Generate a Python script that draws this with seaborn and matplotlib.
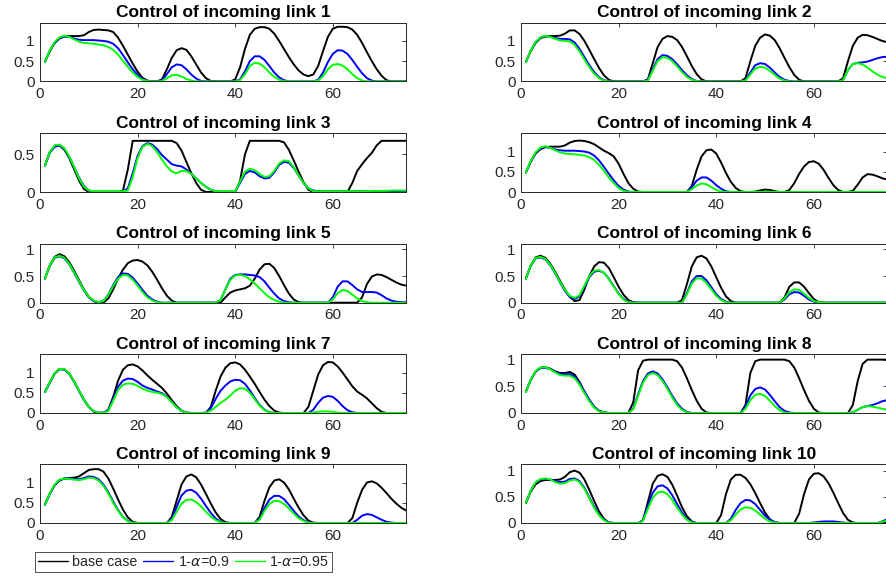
import numpy as np
import pandas as pd
import matplotlib
matplotlib.use("Agg")
import matplotlib.pyplot as plt
import seaborn as sns
from matplotlib.lines import Line2D
from matplotlib.ticker import FuncFormatter

# Time steps of the simulation horizon
time_steps = list(range(1, 76))

titles = [f"Control of incoming link {k}" for k in range(1, 11)]
series_names = ["base case", "1-\u03b1=0.9", "1-\u03b1=0.95"]
legend_labels = ["base case", r"1-$\alpha$=0.9", r"1-$\alpha$=0.95"]
x_ticks = [0, 20, 40, 60]

# Control signal of each incoming link, base case
base_case = [
    [0.48, 0.75, 0.95, 1.06, 1.11, 1.12, 1.12, 1.12, 1.14, 1.22,
     1.27, 1.28, 1.27, 1.26, 1.22, 1.08, 0.88, 0.66, 0.44, 0.24,
     0.09, 0.02, 0, 0, 0.05, 0.30, 0.58, 0.77, 0.82, 0.78,
     0.62, 0.42, 0.22, 0.08, 0.01, 0, 0, 0, 0, 0.05,
     0.35, 0.80, 1.15, 1.30, 1.34, 1.34, 1.30, 1.18, 1.00, 0.80,
     0.60, 0.42, 0.27, 0.17, 0.13, 0.17, 0.38, 0.75, 1.10, 1.30,
     1.35, 1.35, 1.34, 1.28, 1.15, 0.95, 0.72, 0.50, 0.30, 0.14,
     0.03, 0, 0, 0, 0],
    [0.48, 0.75, 0.95, 1.07, 1.11, 1.12, 1.12, 1.13, 1.18, 1.26,
     1.26, 1.17, 1.00, 0.78, 0.55, 0.33, 0.15, 0.04, 0, 0,
     0, 0, 0, 0, 0, 0.05, 0.45, 0.85, 1.05, 1.12,
     1.10, 1.02, 0.85, 0.62, 0.38, 0.18, 0.05, 0, 0, 0,
     0, 0, 0, 0, 0, 0.08, 0.50, 0.88, 1.08, 1.16,
     1.13, 1.02, 0.82, 0.58, 0.35, 0.16, 0.04, 0, 0, 0,
     0, 0, 0, 0, 0, 0.08, 0.50, 0.88, 1.08, 1.15,
     1.14, 1.10, 1.05, 1.00, 0.97],
    [0.35, 0.53, 0.61, 0.62, 0.56, 0.45, 0.30, 0.15, 0.04, 0,
     0, 0, 0, 0, 0, 0, 0.02, 0.30, 0.68, 0.68,
     0.68, 0.68, 0.68, 0.68, 0.68, 0.68, 0.68, 0.65, 0.55, 0.40,
     0.25, 0.12, 0.03, 0, 0, 0, 0, 0, 0, 0,
     0.15, 0.50, 0.68, 0.68, 0.68, 0.68, 0.68, 0.68, 0.68, 0.66,
     0.56, 0.42, 0.27, 0.13, 0.03, 0, 0, 0, 0, 0,
     0, 0, 0, 0.12, 0.28, 0.37, 0.45, 0.52, 0.62, 0.68,
     0.68, 0.68, 0.68, 0.68, 0.68],
    [0.48, 0.75, 0.95, 1.06, 1.11, 1.12, 1.12, 1.12, 1.15, 1.22,
     1.26, 1.27, 1.26, 1.23, 1.18, 1.10, 1.02, 0.96, 0.88, 0.70,
     0.45, 0.22, 0.08, 0.01, 0, 0, 0, 0, 0, 0,
     0, 0, 0, 0, 0.15, 0.55, 0.88, 1.03, 1.05, 0.95,
     0.73, 0.47, 0.25, 0.10, 0.02, 0, 0, 0.01, 0.04, 0.06,
     0.05, 0.02, 0, 0, 0.05, 0.22, 0.45, 0.63, 0.74, 0.76,
     0.70, 0.55, 0.35, 0.17, 0.05, 0, 0, 0.03, 0.18, 0.36,
     0.44, 0.43, 0.39, 0.34, 0.31],
    [0.45, 0.70, 0.86, 0.91, 0.87, 0.76, 0.60, 0.42, 0.25, 0.11,
     0.03, 0, 0, 0.08, 0.25, 0.45, 0.62, 0.74, 0.79, 0.80,
     0.77, 0.70, 0.58, 0.43, 0.27, 0.13, 0.04, 0, 0, 0,
     0, 0, 0, 0, 0, 0, 0, 0.10, 0.19, 0.23,
     0.25, 0.27, 0.32, 0.45, 0.62, 0.72, 0.73, 0.65, 0.50, 0.33,
     0.17, 0.06, 0.01, 0, 0, 0, 0, 0, 0, 0,
     0, 0, 0, 0, 0, 0.10, 0.35, 0.49, 0.53, 0.52,
     0.48, 0.43, 0.38, 0.34, 0.32],
    [0.45, 0.70, 0.85, 0.88, 0.84, 0.73, 0.58, 0.41, 0.25, 0.11,
     0.03, 0.05, 0.25, 0.50, 0.68, 0.76, 0.75, 0.65, 0.48, 0.30,
     0.15, 0.05, 0.01, 0, 0, 0, 0, 0, 0, 0,
     0, 0, 0.05, 0.35, 0.68, 0.85, 0.88, 0.83, 0.68, 0.48,
     0.28, 0.12, 0.03, 0, 0, 0, 0, 0, 0, 0,
     0, 0, 0, 0.10, 0.30, 0.38, 0.38, 0.30, 0.18, 0.07,
     0.01, 0, 0, 0, 0, 0, 0, 0, 0, 0,
     0, 0, 0, 0, 0],
    [0.52, 0.75, 0.98, 1.09, 1.08, 0.97, 0.78, 0.55, 0.33, 0.15,
     0.04, 0, 0, 0.08, 0.40, 0.80, 1.07, 1.18, 1.20, 1.15,
     1.05, 0.93, 0.82, 0.72, 0.62, 0.48, 0.32, 0.17, 0.06, 0.01,
     0, 0, 0, 0, 0.15, 0.55, 0.90, 1.12, 1.23, 1.25,
     1.20, 1.07, 0.90, 0.72, 0.52, 0.33, 0.17, 0.06, 0.01, 0,
     0, 0, 0, 0, 0.15, 0.55, 0.95, 1.18, 1.26, 1.25,
     1.15, 1.00, 0.83, 0.66, 0.53, 0.45, 0.36, 0.24, 0.12, 0.03,
     0, 0, 0, 0, 0],
    [0.40, 0.62, 0.78, 0.85, 0.86, 0.83, 0.78, 0.75, 0.75, 0.77,
     0.72, 0.58, 0.40, 0.24, 0.11, 0.04, 0.01, 0, 0, 0,
     0, 0, 0.20, 0.80, 0.98, 1.00, 1.00, 1.00, 1.00, 1.00,
     1.00, 0.97, 0.85, 0.65, 0.43, 0.23, 0.08, 0.01, 0, 0,
     0, 0, 0, 0, 0, 0.15, 0.75, 0.97, 1.00, 1.00,
     1.00, 1.00, 1.00, 1.00, 0.97, 0.85, 0.65, 0.43, 0.23, 0.08,
     0.01, 0, 0, 0, 0, 0, 0, 0.15, 0.60, 0.92,
     1.00, 1.00, 1.00, 1.00, 1.00],
    [0.45, 0.72, 0.93, 1.05, 1.10, 1.11, 1.12, 1.15, 1.23, 1.31,
     1.33, 1.33, 1.27, 1.10, 0.85, 0.58, 0.33, 0.14, 0.03, 0,
     0, 0, 0, 0, 0, 0, 0.15, 0.55, 0.95, 1.15,
     1.20, 1.13, 0.95, 0.72, 0.48, 0.26, 0.10, 0.02, 0, 0,
     0, 0, 0, 0, 0.15, 0.55, 0.88, 1.05, 1.08, 1.00,
     0.83, 0.60, 0.38, 0.19, 0.06, 0.01, 0, 0, 0, 0,
     0, 0, 0, 0.12, 0.50, 0.82, 1.00, 1.03, 0.98, 0.87,
     0.74, 0.60, 0.48, 0.38, 0.31],
    [0.38, 0.60, 0.74, 0.80, 0.82, 0.82, 0.82, 0.83, 0.88, 0.97,
     1.00, 0.96, 0.83, 0.63, 0.42, 0.22, 0.08, 0.01, 0, 0,
     0, 0, 0, 0, 0.05, 0.40, 0.75, 0.90, 0.93, 0.88,
     0.73, 0.52, 0.30, 0.13, 0.03, 0, 0, 0, 0, 0,
     0.15, 0.55, 0.83, 0.92, 0.92, 0.86, 0.74, 0.57, 0.38, 0.20,
     0.07, 0.01, 0, 0, 0, 0, 0.18, 0.55, 0.83, 0.94,
     0.95, 0.89, 0.76, 0.58, 0.38, 0.19, 0.06, 0.01, 0, 0,
     0, 0, 0, 0, 0],
]

# Control signal with chance constraint 1-alpha = 0.9
alpha_090 = [
    [0.48, 0.75, 0.95, 1.07, 1.11, 1.10, 1.06, 1.03, 1.02, 1.02,
     1.02, 1.01, 1.00, 0.98, 0.93, 0.82, 0.65, 0.47, 0.30, 0.16,
     0.06, 0.01, 0, 0, 0.03, 0.18, 0.35, 0.42, 0.40, 0.30,
     0.17, 0.07, 0.01, 0, 0, 0, 0, 0, 0, 0,
     0.05, 0.25, 0.50, 0.62, 0.62, 0.53, 0.38, 0.22, 0.10, 0.03,
     0, 0, 0, 0, 0, 0, 0.04, 0.22, 0.48, 0.68,
     0.77, 0.76, 0.68, 0.53, 0.36, 0.20, 0.08, 0.02, 0, 0,
     0, 0, 0, 0, 0],
    [0.48, 0.76, 0.97, 1.08, 1.12, 1.10, 1.07, 1.05, 1.05, 1.04,
     0.96, 0.80, 0.60, 0.40, 0.23, 0.10, 0.03, 0, 0, 0,
     0, 0, 0, 0, 0, 0.03, 0.30, 0.55, 0.65, 0.63,
     0.55, 0.42, 0.28, 0.15, 0.06, 0.01, 0, 0, 0, 0,
     0, 0, 0, 0, 0, 0.03, 0.22, 0.40, 0.45, 0.43,
     0.34, 0.22, 0.11, 0.04, 0.01, 0, 0, 0, 0, 0,
     0, 0, 0, 0, 0, 0.03, 0.28, 0.43, 0.46, 0.47,
     0.49, 0.53, 0.57, 0.60, 0.61],
    [0.35, 0.52, 0.60, 0.62, 0.57, 0.47, 0.33, 0.19, 0.08, 0.02,
     0.005, 0.005, 0.005, 0.005, 0.005, 0.005, 0.005, 0.05, 0.25, 0.48,
     0.61, 0.65, 0.63, 0.57, 0.49, 0.43, 0.37, 0.35, 0.34, 0.30,
     0.24, 0.18, 0.12, 0.07, 0.03, 0.01, 0.005, 0.005, 0.005, 0.01,
     0.12, 0.24, 0.28, 0.26, 0.21, 0.18, 0.19, 0.26, 0.36, 0.40,
     0.39, 0.32, 0.22, 0.12, 0.05, 0.02, 0.01, 0.01, 0.01, 0.01,
     0.01, 0.01, 0.01, 0.01, 0.01, 0.01, 0.01, 0.01, 0.01, 0.01,
     0.01, 0.01, 0.01, 0.01, 0.01],
    [0.48, 0.76, 0.97, 1.08, 1.11, 1.09, 1.05, 1.03, 1.02, 1.02,
     1.02, 1.01, 1.00, 0.97, 0.90, 0.78, 0.62, 0.45, 0.29, 0.15,
     0.06, 0.01, 0, 0, 0, 0, 0, 0, 0, 0,
     0, 0, 0, 0, 0.12, 0.28, 0.36, 0.36, 0.28, 0.17,
     0.08, 0.02, 0, 0, 0, 0, 0, 0, 0, 0,
     0, 0, 0, 0, 0, 0, 0, 0, 0, 0,
     0, 0, 0, 0, 0, 0, 0, 0, 0, 0,
     0, 0, 0, 0, 0],
    [0.45, 0.69, 0.84, 0.87, 0.83, 0.72, 0.56, 0.39, 0.23, 0.10,
     0.03, 0.01, 0.03, 0.15, 0.33, 0.48, 0.55, 0.54, 0.47, 0.36,
     0.24, 0.13, 0.06, 0.02, 0, 0, 0, 0, 0, 0,
     0, 0, 0, 0, 0, 0, 0.05, 0.25, 0.45, 0.52,
     0.53, 0.53, 0.52, 0.51, 0.48, 0.40, 0.28, 0.17, 0.08, 0.03,
     0.01, 0, 0, 0, 0, 0, 0, 0, 0, 0.10,
     0.30, 0.40, 0.40, 0.33, 0.25, 0.20, 0.20, 0.20, 0.19, 0.14,
     0.08, 0.04, 0.02, 0.01, 0.01],
    [0.45, 0.69, 0.83, 0.85, 0.81, 0.70, 0.55, 0.38, 0.22, 0.11,
     0.07, 0.12, 0.30, 0.48, 0.58, 0.60, 0.56, 0.45, 0.31, 0.17,
     0.07, 0.02, 0, 0, 0, 0, 0, 0, 0, 0,
     0, 0, 0, 0.18, 0.40, 0.50, 0.50, 0.42, 0.29, 0.16,
     0.07, 0.02, 0, 0, 0, 0, 0, 0, 0, 0,
     0, 0, 0, 0.06, 0.16, 0.20, 0.19, 0.13, 0.06, 0.02,
     0, 0, 0, 0, 0, 0, 0, 0, 0, 0,
     0, 0, 0, 0, 0],
    [0.52, 0.75, 0.97, 1.08, 1.07, 0.96, 0.77, 0.54, 0.32, 0.15,
     0.04, 0.01, 0.01, 0.07, 0.35, 0.65, 0.80, 0.85, 0.84, 0.77,
     0.68, 0.62, 0.58, 0.53, 0.49, 0.40, 0.27, 0.14, 0.05, 0.01,
     0, 0, 0, 0.01, 0.12, 0.35, 0.55, 0.68, 0.78, 0.82,
     0.81, 0.72, 0.56, 0.37, 0.20, 0.08, 0.02, 0, 0, 0,
     0, 0, 0, 0, 0, 0.08, 0.25, 0.38, 0.42, 0.40,
     0.30, 0.17, 0.07, 0.02, 0, 0, 0, 0, 0, 0,
     0, 0, 0, 0, 0],
    [0.40, 0.62, 0.78, 0.84, 0.85, 0.82, 0.77, 0.73, 0.73, 0.73,
     0.68, 0.56, 0.40, 0.25, 0.12, 0.04, 0.01, 0, 0, 0,
     0, 0, 0.08, 0.35, 0.60, 0.74, 0.78, 0.74, 0.63, 0.48,
     0.32, 0.18, 0.08, 0.02, 0, 0, 0, 0, 0, 0,
     0, 0, 0, 0, 0, 0.12, 0.33, 0.45, 0.48, 0.44,
     0.34, 0.22, 0.11, 0.04, 0.01, 0, 0, 0, 0, 0,
     0, 0, 0, 0, 0, 0, 0, 0.01, 0.06, 0.11,
     0.13, 0.15, 0.18, 0.22, 0.24],
    [0.45, 0.72, 0.94, 1.06, 1.10, 1.10, 1.09, 1.08, 1.11, 1.15,
     1.14, 1.08, 0.95, 0.76, 0.53, 0.32, 0.15, 0.05, 0.01, 0,
     0, 0, 0, 0, 0, 0, 0.10, 0.40, 0.68, 0.80,
     0.82, 0.75, 0.60, 0.42, 0.25, 0.11, 0.03, 0, 0, 0,
     0, 0, 0, 0, 0.10, 0.37, 0.58, 0.67, 0.67, 0.59,
     0.45, 0.30, 0.16, 0.07, 0.02, 0, 0, 0, 0, 0,
     0, 0, 0, 0, 0.08, 0.18, 0.22, 0.20, 0.14, 0.08,
     0.03, 0.01, 0, 0, 0],
    [0.38, 0.62, 0.77, 0.83, 0.84, 0.83, 0.80, 0.78, 0.79, 0.84,
     0.85, 0.80, 0.67, 0.49, 0.31, 0.16, 0.06, 0.01, 0, 0,
     0, 0, 0, 0, 0.05, 0.33, 0.58, 0.70, 0.72, 0.66,
     0.53, 0.36, 0.20, 0.08, 0.02, 0, 0, 0, 0, 0,
     0, 0, 0.08, 0.25, 0.38, 0.44, 0.43, 0.36, 0.25, 0.14,
     0.06, 0.02, 0, 0, 0, 0, 0, 0, 0, 0.01,
     0.02, 0.03, 0.03, 0.03, 0.02, 0.01, 0, 0, 0, 0,
     0, 0, 0, 0.03, 0.07],
]

# Control signal with chance constraint 1-alpha = 0.95
alpha_095 = [
    [0.48, 0.76, 0.97, 1.09, 1.13, 1.10, 1.04, 0.98, 0.95, 0.94,
     0.93, 0.91, 0.89, 0.85, 0.78, 0.66, 0.51, 0.36, 0.22, 0.11,
     0.04, 0.01, 0, 0, 0.01, 0.08, 0.15, 0.16, 0.12, 0.06,
     0.02, 0, 0, 0, 0, 0, 0, 0, 0, 0,
     0.03, 0.18, 0.38, 0.46, 0.44, 0.35, 0.22, 0.11, 0.04, 0.01,
     0, 0, 0, 0, 0, 0, 0.02, 0.13, 0.30, 0.41,
     0.43, 0.39, 0.30, 0.18, 0.08, 0.02, 0, 0, 0, 0,
     0, 0, 0, 0, 0],
    [0.48, 0.76, 0.97, 1.09, 1.13, 1.10, 1.05, 1.01, 1.00, 0.99,
     0.90, 0.74, 0.54, 0.35, 0.19, 0.08, 0.02, 0, 0, 0,
     0, 0, 0, 0, 0, 0.02, 0.27, 0.50, 0.60, 0.58,
     0.50, 0.37, 0.23, 0.11, 0.04, 0.01, 0, 0, 0, 0,
     0, 0, 0, 0, 0, 0.02, 0.17, 0.32, 0.36, 0.34,
     0.26, 0.16, 0.07, 0.02, 0, 0, 0, 0, 0, 0,
     0, 0, 0, 0, 0, 0.03, 0.28, 0.43, 0.45, 0.42,
     0.34, 0.25, 0.17, 0.11, 0.08],
    [0.35, 0.53, 0.62, 0.63, 0.58, 0.47, 0.33, 0.18, 0.07, 0.02,
     0.01, 0.01, 0.01, 0.01, 0.01, 0.01, 0.01, 0.02, 0.20, 0.45,
     0.60, 0.64, 0.61, 0.53, 0.43, 0.34, 0.27, 0.25, 0.28, 0.28,
     0.24, 0.18, 0.12, 0.07, 0.03, 0.01, 0.01, 0.01, 0.01, 0.01,
     0.14, 0.27, 0.31, 0.29, 0.24, 0.20, 0.21, 0.28, 0.38, 0.42,
     0.41, 0.33, 0.22, 0.12, 0.05, 0.01, 0.01, 0.01, 0.01, 0.01,
     0.01, 0.01, 0.01, 0.01, 0.01, 0.01, 0.01, 0.015, 0.015, 0.015,
     0.015, 0.02, 0.02, 0.02, 0.02],
    [0.48, 0.77, 0.98, 1.10, 1.13, 1.09, 1.03, 0.98, 0.95, 0.94,
     0.93, 0.92, 0.90, 0.86, 0.79, 0.67, 0.52, 0.36, 0.22, 0.10,
     0.03, 0, 0, 0, 0, 0, 0, 0, 0, 0,
     0, 0, 0, 0, 0.07, 0.16, 0.21, 0.19, 0.12, 0.05,
     0.01, 0, 0, 0, 0, 0, 0, 0, 0, 0,
     0, 0, 0, 0, 0, 0, 0, 0, 0, 0,
     0, 0, 0, 0, 0, 0, 0, 0, 0, 0,
     0, 0, 0, 0, 0],
    [0.45, 0.70, 0.85, 0.88, 0.84, 0.73, 0.57, 0.40, 0.24, 0.11,
     0.04, 0.01, 0.03, 0.14, 0.31, 0.45, 0.52, 0.51, 0.43, 0.32,
     0.20, 0.10, 0.04, 0.01, 0, 0, 0, 0, 0, 0,
     0, 0, 0, 0, 0, 0, 0.05, 0.25, 0.43, 0.51,
     0.52, 0.50, 0.44, 0.36, 0.27, 0.18, 0.10, 0.05, 0.02, 0,
     0, 0, 0, 0, 0, 0, 0, 0, 0, 0.06,
     0.18, 0.24, 0.22, 0.15, 0.08, 0.03, 0.01, 0, 0, 0,
     0, 0, 0, 0, 0],
    [0.45, 0.70, 0.84, 0.86, 0.82, 0.71, 0.56, 0.39, 0.24, 0.13,
     0.09, 0.14, 0.32, 0.50, 0.60, 0.61, 0.56, 0.44, 0.30, 0.16,
     0.06, 0.01, 0, 0, 0, 0, 0, 0, 0, 0,
     0, 0, 0, 0.16, 0.36, 0.46, 0.45, 0.37, 0.25, 0.13,
     0.05, 0.01, 0, 0, 0, 0, 0, 0, 0, 0,
     0, 0, 0, 0.08, 0.20, 0.25, 0.24, 0.17, 0.09, 0.03,
     0.01, 0, 0, 0, 0, 0, 0, 0, 0, 0,
     0, 0, 0, 0, 0],
    [0.52, 0.76, 0.98, 1.09, 1.08, 0.97, 0.78, 0.55, 0.33, 0.15,
     0.05, 0.01, 0.01, 0.05, 0.30, 0.57, 0.70, 0.73, 0.72, 0.67,
     0.60, 0.55, 0.52, 0.50, 0.47, 0.39, 0.27, 0.14, 0.05, 0.01,
     0, 0, 0, 0.01, 0.06, 0.15, 0.25, 0.33, 0.43, 0.55,
     0.61, 0.60, 0.50, 0.34, 0.18, 0.07, 0.02, 0, 0, 0,
     0, 0, 0, 0, 0, 0.01, 0.03, 0.04, 0.04, 0.03,
     0.01, 0, 0, 0, 0, 0, 0, 0, 0, 0,
     0, 0, 0, 0, 0],
    [0.40, 0.62, 0.79, 0.85, 0.86, 0.82, 0.76, 0.71, 0.70, 0.70,
     0.65, 0.53, 0.37, 0.22, 0.10, 0.03, 0.01, 0, 0, 0,
     0, 0, 0.07, 0.32, 0.57, 0.71, 0.75, 0.71, 0.60, 0.45,
     0.29, 0.15, 0.06, 0.01, 0, 0, 0, 0, 0, 0,
     0, 0, 0, 0, 0, 0.08, 0.24, 0.34, 0.36, 0.32,
     0.23, 0.13, 0.05, 0.01, 0, 0, 0, 0, 0, 0,
     0, 0, 0, 0, 0, 0, 0, 0.01, 0.06, 0.11,
     0.13, 0.12, 0.10, 0.08, 0.06],
    [0.45, 0.73, 0.95, 1.07, 1.10, 1.09, 1.07, 1.06, 1.08, 1.12,
     1.11, 1.05, 0.92, 0.73, 0.50, 0.30, 0.14, 0.04, 0.01, 0,
     0, 0, 0, 0, 0, 0, 0.07, 0.28, 0.48, 0.57,
     0.58, 0.52, 0.41, 0.28, 0.16, 0.07, 0.02, 0, 0, 0,
     0, 0, 0, 0, 0.08, 0.30, 0.47, 0.55, 0.54, 0.47,
     0.36, 0.23, 0.12, 0.05, 0.01, 0, 0, 0, 0, 0,
     0, 0, 0, 0, 0, 0, 0, 0, 0, 0,
     0, 0, 0, 0, 0],
    [0.38, 0.62, 0.78, 0.84, 0.85, 0.83, 0.78, 0.75, 0.76, 0.81,
     0.83, 0.78, 0.65, 0.47, 0.29, 0.15, 0.05, 0.01, 0, 0,
     0, 0, 0, 0, 0.04, 0.27, 0.48, 0.58, 0.60, 0.55,
     0.44, 0.29, 0.16, 0.06, 0.01, 0, 0, 0, 0, 0,
     0, 0, 0.05, 0.16, 0.26, 0.30, 0.29, 0.24, 0.16, 0.08,
     0.03, 0.01, 0, 0, 0, 0, 0, 0, 0, 0,
     0, 0, 0, 0, 0, 0, 0, 0, 0, 0,
     0, 0, 0, 0.02, 0.05],
]

# Upper y-limit of every panel
y_tops = [1.45, 1.45, 0.78, 1.45, 1.1, 1.1, 1.45, 1.1, 1.45, 1.12]

sns.set_theme(style="white")
plt.rcParams["font.family"] = ["Liberation Sans", "DejaVu Sans"]

W, H = 886, 577
fig = plt.figure(figsize=(W / 100, H / 100), dpi=100)

palette = dict(zip(series_names, ["#000000", "#0000ff", "#00ff00"]))
col_left = [40, 521]
row_top = [22.7, 133.3, 244.0, 354.3, 464.3]
ax_w, ax_h = 366, 58.7
ink = "#262626"

for k in range(10):
    r, c = divmod(k, 2)
    ax = fig.add_axes([col_left[c] / W, 1 - (row_top[r] + ax_h) / H,
                       ax_w / W, ax_h / H])
    df = pd.DataFrame({
        "t": time_steps * 3,
        "u": base_case[k] + alpha_090[k] + alpha_095[k],
        "case": np.repeat(series_names, len(time_steps)),
    })
    sns.lineplot(data=df, x="t", y="u", hue="case", hue_order=series_names,
                 palette=palette, ax=ax, legend=False, linewidth=1.4)
    ax.set_xlim(0, 75)
    ax.set_ylim(0, y_tops[k])
    ax.set_xticks(x_ticks)
    ax.set_yticks([v for v in (0, 0.5, 1) if v <= y_tops[k]])
    ax.yaxis.set_major_formatter(FuncFormatter(lambda v, p: f"{v:g}"))
    ax.set_xlabel("")
    ax.set_ylabel("")
    ax.tick_params(direction="in", length=3, width=0.6, top=True, right=True,
                   labelsize=11, colors=ink, pad=4)
    for s in ax.spines.values():
        s.set_visible(True)
        s.set_color(ink)
        s.set_linewidth(0.7)
    ax.set_title(titles[k], fontsize=12.5, fontweight="bold", pad=4,
                 color="black")

handles = [Line2D([], [], color=palette[n], linewidth=1.0) for n in series_names]
leg = fig.legend(handles, legend_labels, loc="lower left",
                 bbox_to_anchor=(35 / W, 1 - 572 / H), ncol=3, frameon=True,
                 fancybox=False, edgecolor=ink, fontsize=10.3,
                 handlelength=2.1, handletextpad=0.3, columnspacing=0.4,
                 borderpad=0.2, borderaxespad=0)
leg.get_frame().set_linewidth(0.7)
for t in leg.get_texts():
    t.set_color(ink)

fig.savefig("out.png", dpi=100)
